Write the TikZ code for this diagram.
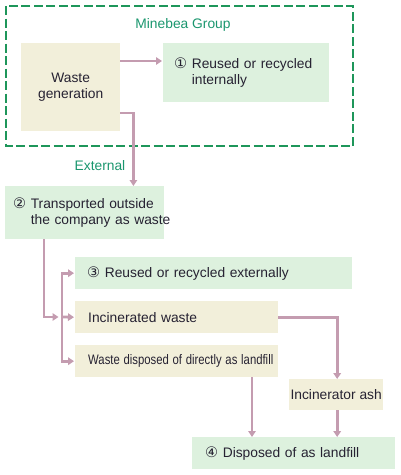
\documentclass[tikz,border=0pt]{standalone}
\usepackage{fontspec}
\setmainfont{Liberation Sans}
\newfontfamily\symf{DejaVu Sans}
\usetikzlibrary{arrows.meta}
\definecolor{beige}{RGB}{242,239,218}
\definecolor{lgreen}{RGB}{221,241,222}
\definecolor{arrc}{RGB}{196,156,176}
\definecolor{grp}{RGB}{30,150,90}
\definecolor{gtext}{RGB}{26,150,110}
\definecolor{txt}{RGB}{38,34,50}
\newcommand{\circn}[1]{{\symf\fontsize{14.5}{16}\selectfont #1}}
\tikzset{
  box/.style={rectangle, inner sep=0pt, draw=none, anchor=north west, text=txt,
    font=\fontsize{13.8}{16}\selectfont},
  beigebox/.style={box, fill=beige},
  greenbox/.style={box, fill=lgreen},
  conn/.style={draw=arrc, line width=2.8pt},
  arr/.style={conn, -{Triangle[length=6pt,width=7.5pt]}},
  lbl/.style={text=gtext, font=\fontsize{13.8}{16}\selectfont, inner sep=0pt}
}
\begin{document}
\begin{tikzpicture}[x=1pt,y=-1pt]
\useasboundingbox (0,0) rectangle (401,475);
% group
\draw[grp, line width=2.7pt, dash pattern=on 9pt off 3.5pt] (6,6) rectangle (353,146);
\node[lbl] (mg) at (183,25) {Minebea Group};
% boxes
\node[beigebox, minimum width=99pt, minimum height=88pt, align=center] (wg) at (21,43) {Waste\\generation};
\node[greenbox, minimum width=166pt, minimum height=59pt, text width=144pt, align=left] (b1) at (163,43)
  {\mbox{\circn{①} Reused or recycled}\\\mbox{\phantom{\circn{①} }internally}\vphantom{p}};
\node[lbl] (ext) at (100,166) {External};
\node[greenbox, minimum width=159pt, minimum height=53pt, text width=143pt, align=left] (b2) at (5,186)
  {\mbox{\circn{②} Transported outside}\\\mbox{\phantom{\circn{②} }the company as waste}};
\node[greenbox, minimum width=277pt, minimum height=32pt, text width=253pt, align=left] (b3) at (75,257)
  {\mbox{\circn{③} Reused or recycled externally}};
\node[beigebox, minimum width=203pt, minimum height=32pt, text width=177pt, align=left] (inc) at (75,301)
  {\mbox{Incinerated waste}};
\node[beigebox, minimum width=203pt, minimum height=32pt, text width=177pt, align=left] (wd) at (75,345)
  {\mbox{\scalebox{0.82}[1]{Waste disposed of directly as landfill}}};
\node[beigebox, minimum width=94pt, minimum height=31pt, align=center] (ash) at (289,379)
  {Incinerator ash};
\node[greenbox, minimum width=203pt, minimum height=32pt, text width=177pt, align=left] (b4) at (192,437)
  {\mbox{\circn{④} Disposed of as landfill}};
% connectors
\coordinate (p1) at ([yshift=-18pt]wg.north east);
\draw[arr] (p1) -- ([xshift=-1pt]b1.west |- p1);
\coordinate (p2) at ([yshift=-70pt]wg.north east);
\coordinate (p2b) at ([xshift=13pt]wg.east);
\draw[arr] (p2) -| (p2b |- b2.north);
\coordinate (j) at (62,317);
\coordinate (p3) at ([xshift=39pt]b2.south west);
\draw[arr] (p3) |- ([xshift=-3.5pt]j);
\draw[arr] (j) |- ([xshift=-1pt]b3.west);
\draw[arr] (j) -- ([xshift=-1pt]inc.west);
\draw[arr] (j) |- ([xshift=-1pt]wd.west);
\draw[arr] (inc.east) -| ([xshift=1pt]ash.north);
\coordinate (p5) at ([xshift=177pt]wd.south west);
\draw[arr] (p5) -- (p5 |- b4.north);
\coordinate (p6) at ([xshift=1pt]ash.south);
\draw[arr] (p6) -- (p6 |- b4.north);
\end{tikzpicture}
\end{document}
